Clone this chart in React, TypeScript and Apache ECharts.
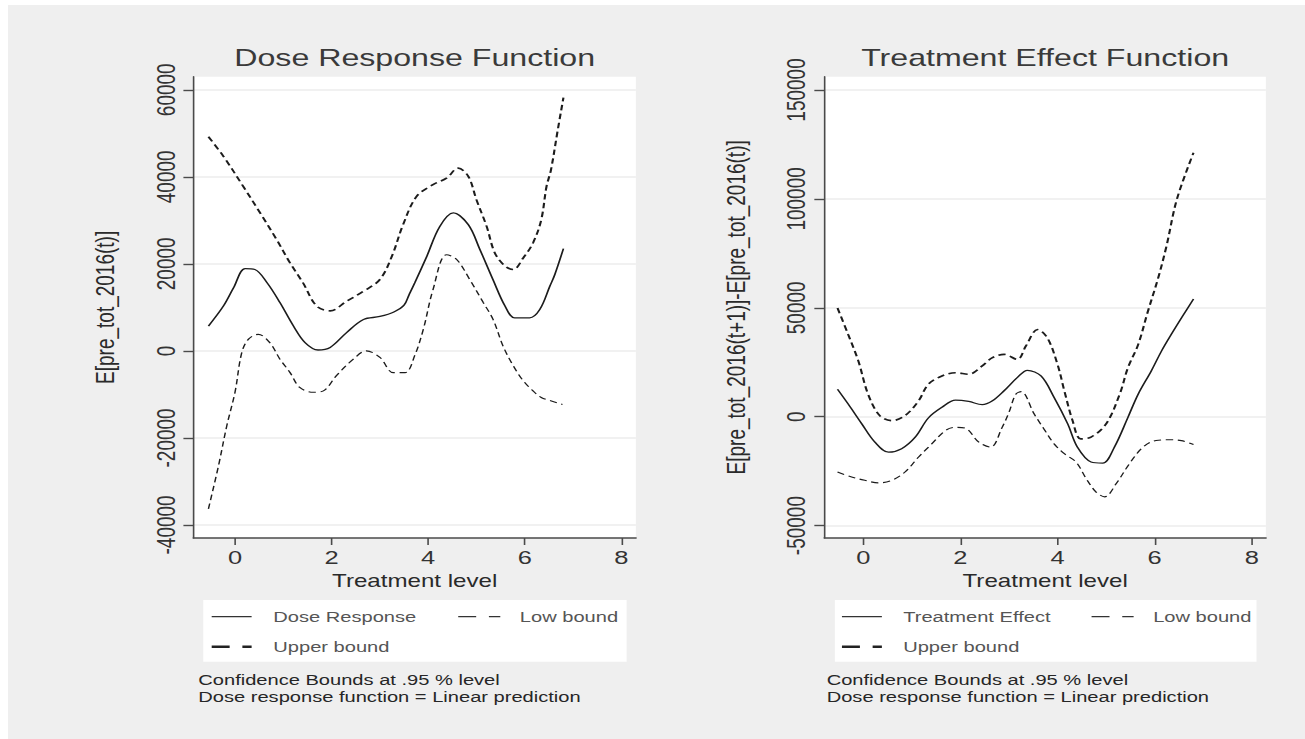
import React, { useEffect, useRef } from "react";
import * as echarts from "echarts";

const FONT = '"Liberation Sans", Arial, Helvetica, sans-serif';
const CHART_W = 974;
const SX = 1305 / CHART_W;

// ---------- Left panel: Dose Response Function ----------
const doseX = [-0.55, -0.24, -0.03, 0.21, 0.41, 0.66, 0.93, 1.21, 1.45, 1.72, 1.97, 2.31, 2.66, 3.0, 3.3, 3.5, 3.6, 3.72, 3.97, 4.24, 4.52, 4.83, 5.07, 5.34, 5.59, 5.79, 6.1, 6.31, 6.52, 6.62, 6.8];
const doseY = [5700, 10300, 14500, 18900, 18700, 15700, 11100, 5700, 1900, 200, 800, 4200, 7200, 7900, 9000, 10500, 12800, 15600, 21700, 28600, 31700, 29000, 23300, 16400, 10300, 7600, 7600, 9500, 14900, 17500, 23500];

const doseUpX = [-0.55, -0.24, 0.17, 0.52, 0.86, 1.14, 1.41, 1.69, 1.97, 2.31, 2.66, 3.0, 3.25, 3.48, 3.76, 4.1, 4.38, 4.62, 4.83, 5.0, 5.21, 5.38, 5.59, 5.76, 5.97, 6.17, 6.34, 6.45, 6.54, 6.68, 6.8];
const doseUpY = [49200, 44700, 37800, 31700, 25600, 20200, 15600, 10300, 9200, 11400, 13700, 16400, 21800, 29000, 35500, 38200, 39700, 42000, 40100, 34700, 28600, 22500, 19500, 18700, 21400, 24800, 30100, 37800, 41500, 50600, 58200];

const doseLoX = [-0.55, -0.34, -0.17, 0.0, 0.14, 0.28, 0.48, 0.72, 0.93, 1.14, 1.34, 1.62, 1.83, 2.1, 2.45, 2.72, 3.0, 3.28, 3.52, 3.72, 3.9, 4.1, 4.38, 4.59, 4.86, 5.14, 5.34, 5.55, 5.76, 5.97, 6.17, 6.34, 6.55, 6.78];
const doseLoY = [-36300, -26300, -17200, -9500, -400, 2700, 3800, 1900, -1900, -5000, -8400, -9500, -9200, -5700, -1900, 0, -1500, -5000, -5000, -1100, 5000, 14100, 22100, 21000, 16400, 11100, 7300, 1100, -3400, -6900, -9200, -10700, -11500, -12300];

// ---------- Right panel: Treatment Effect Function ----------
const effX = [-0.53, -0.31, -0.03, 0.24, 0.52, 0.79, 1.07, 1.34, 1.62, 1.9, 2.17, 2.45, 2.66, 2.9, 3.17, 3.38, 3.66, 3.93, 4.21, 4.41, 4.69, 4.93, 5.17, 5.45, 5.66, 5.93, 6.14, 6.34, 6.57, 6.8];
const effY = [12600, 5800, -3300, -11700, -16300, -14700, -9400, -600, 4300, 7600, 7000, 5500, 7300, 11900, 17900, 21300, 18700, 8800, -3300, -14000, -20800, -21300, -14000, -300, 10300, 21000, 30100, 37700, 46000, 54000];

const effUpX = [-0.53, -0.31, -0.1, 0.1, 0.34, 0.59, 0.86, 1.14, 1.34, 1.62, 1.9, 2.17, 2.45, 2.66, 2.9, 3.17, 3.35, 3.59, 3.79, 4.0, 4.14, 4.31, 4.48, 4.69, 5.0, 5.28, 5.45, 5.66, 5.86, 6.07, 6.24, 6.46, 6.8];
const effUpY = [49900, 37700, 25500, 10300, 500, -1800, 500, 7300, 14900, 18700, 20200, 19500, 23300, 27100, 28600, 26300, 32500, 40000, 36200, 24000, 11900, -1800, -10200, -9400, -3300, 10300, 22500, 33100, 48300, 63500, 78000, 100000, 121200];

const effLoX = [-0.53, -0.24, 0.03, 0.31, 0.59, 0.86, 1.14, 1.41, 1.69, 1.9, 2.1, 2.38, 2.62, 2.86, 3.0, 3.14, 3.25, 3.52, 3.72, 3.93, 4.14, 4.38, 4.59, 4.79, 4.97, 5.21, 5.48, 5.76, 6.03, 6.31, 6.55, 6.8];
const effLoY = [-25400, -27700, -29200, -30400, -29200, -25400, -18500, -12500, -6400, -4900, -5300, -11700, -14000, -4900, 2000, 10300, 11500, 1200, -5600, -12500, -17000, -20800, -28400, -34500, -36800, -30700, -21600, -14000, -10900, -10600, -11000, -12800];

// ---------- Axes ticks ----------
const xTicks = [0, 2, 4, 6, 8];
const leftYTicks = [-40000, -20000, 0, 20000, 40000, 60000];
const rightYTicks = [-50000, 0, 50000, 100000, 150000];

// ---------- Texts ----------
const titles = ["Dose Response Function", "Treatment Effect Function"];
const yTitles = ["E[pre_tot_2016(t)]", "E[pre_tot_2016(t+1)]-E[pre_tot_2016(t)]"];
const xTitle = "Treatment level";
const legendLeft = ["Dose Response", "Low bound", "Upper bound"];
const legendRight = ["Treatment Effect", "Low bound", "Upper bound"];
const notes = ["Confidence Bounds at .95 % level", "Dose response function = Linear prediction"];

const pairs = (xs: number[], ys: number[]) => xs.map((x, i) => [x, ys[i]]);

const LINE = "#1c1c1c";
const AXIS = "#4a4a4a";

function xAxisCfg(gridIndex: number, min: number, max: number) {
  return {
    type: "value",
    gridIndex,
    min,
    max,
    name: xTitle,
    nameLocation: "middle",
    nameGap: 30,
    nameTextStyle: { fontFamily: FONT, fontSize: 18, color: "#2a2a2a" },
    axisLine: { show: true, onZero: false, lineStyle: { color: AXIS, width: 1.6 } },
    axisTick: { show: true, length: 7, customValues: xTicks, lineStyle: { color: AXIS, width: 1.2 } },
    axisLabel: {
      customValues: xTicks,
      margin: 10,
      fontFamily: FONT,
      fontSize: 19,
      color: "#333",
      formatter: (v: number) => String(v),
    },
    splitLine: { show: false },
  };
}

function yAxisCfg(gridIndex: number, min: number, max: number, ticks: number[], name: string) {
  return {
    type: "value",
    gridIndex,
    min,
    max,
    name,
    nameLocation: "middle",
    nameRotate: 90,
    nameGap: 56,
    nameTextStyle: { fontFamily: FONT, fontSize: 19, color: "#2a2a2a" },
    axisLine: { show: true, onZero: false, lineStyle: { color: AXIS, width: 1.2 } },
    axisTick: { show: true, length: 7.5, customValues: ticks, lineStyle: { color: AXIS, width: 1.4 } },
    axisLabel: {
      customValues: ticks,
      rotate: 90,
      margin: 11,
      fontFamily: FONT,
      fontSize: 19,
      color: "#333",
      formatter: (v: number) => String(v),
    },
    splitLine: { show: true, lineStyle: { color: "#ededed", width: 1.5 } },
  };
}

function lineSeries(xi: number, xs: number[], ys: number[], kind: "solid" | "up" | "lo", name: string) {
  const style =
    kind === "solid"
      ? { color: LINE, width: 1.3, type: "solid" }
      : kind === "up"
      ? { color: LINE, width: 1.6, type: [5.5, 3.5] }
      : { color: LINE, width: 1.1, type: [5.5, 3.5] };
  return {
    type: "line",
    name,
    xAxisIndex: xi,
    yAxisIndex: xi,
    data: pairs(xs, ys),
    showSymbol: false,
    symbol: "none",
    smooth: 0.35,
    silent: true,
    lineStyle: style,
  };
}

function legendGraphics(box: { x: number; w: number }, lineX: number, textX: number, lowLineX: number, lowTextX: number, labels: string[]) {
  const sampleW = 29.8;
  const dash = [13.4, 9.5];
  const font = `15px ${FONT}`;
  return [
    { type: "rect", shape: { x: box.x, y: 600, width: box.w, height: 61.7 }, style: { fill: "#ffffff" }, silent: true },
    { type: "line", shape: { x1: lineX, y1: 616.7, x2: lineX + sampleW, y2: 616.7 }, style: { stroke: "#333", lineWidth: 1.2 }, silent: true },
    { type: "text", x: textX, y: 616.7, style: { text: labels[0], font, fill: "#555", textAlign: "left", textVerticalAlign: "middle" }, silent: true },
    { type: "line", shape: { x1: lowLineX, y1: 616.7, x2: lowLineX + 31.4, y2: 616.7 }, style: { stroke: "#333", lineWidth: 1.2, lineDash: dash }, silent: true },
    { type: "text", x: lowTextX, y: 616.7, style: { text: labels[1], font, fill: "#555", textAlign: "left", textVerticalAlign: "middle" }, silent: true },
    { type: "line", shape: { x1: lineX, y1: 646.7, x2: lineX + sampleW, y2: 646.7 }, style: { stroke: "#222", lineWidth: 2.4, lineDash: dash }, silent: true },
    { type: "text", x: textX, y: 646.7, style: { text: labels[2], font, fill: "#555", textAlign: "left", textVerticalAlign: "middle" }, silent: true },
  ];
}

function noteGraphics(x: number) {
  const font = `15px ${FONT}`;
  return [
    { type: "text", x, y: 679.5, style: { text: notes[0], font, fill: "#262626", textAlign: "left", textVerticalAlign: "middle" }, silent: true },
    { type: "text", x, y: 696.7, style: { text: notes[1], font, fill: "#262626", textAlign: "left", textVerticalAlign: "middle" }, silent: true },
  ];
}

const GRID_L = { left: 144.4, width: 330.2 };
const GRID_R = { left: 615.3, width: 329.5 };
const GRID_TOP = 76.7;
const GRID_H = 461.3;

function buildOption() {
  const gridCommon = {
    top: GRID_TOP,
    height: GRID_H,
    show: true,
    backgroundColor: "#ffffff",
    borderWidth: 0,
    borderColor: "transparent",
    containLabel: false,
    outerBoundsMode: "none",
  };
  return {
    animation: false,
    backgroundColor: "#efefef",
    grid: [
      { ...gridCommon, left: GRID_L.left, width: GRID_L.width },
      { ...gridCommon, left: GRID_R.left, width: GRID_R.width },
    ],
    xAxis: [xAxisCfg(0, -0.86, 8.3), xAxisCfg(1, -0.8, 8.29)],
    yAxis: [
      yAxisCfg(0, -43000, 63000, leftYTicks, yTitles[0]),
      yAxisCfg(1, -55700, 156100, rightYTicks, yTitles[1]),
    ],
    series: [
      lineSeries(0, doseX, doseY, "solid", "Dose Response"),
      lineSeries(0, doseLoX, doseLoY, "lo", "Low bound"),
      lineSeries(0, doseUpX, doseUpY, "up", "Upper bound"),
      lineSeries(1, effX, effY, "solid", "Treatment Effect"),
      lineSeries(1, effLoX, effLoY, "lo", "Low bound (effect)"),
      lineSeries(1, effUpX, effUpY, "up", "Upper bound (effect)"),
    ],
    graphic: [
      { type: "rect", shape: { x: 0, y: 0, width: CHART_W, height: 5 }, style: { fill: "#ffffff" }, silent: true },
      { type: "rect", shape: { x: 0, y: 0, width: 6, height: 739 }, style: { fill: "#ffffff" }, silent: true },
      {
        type: "text",
        x: GRID_L.left + GRID_L.width / 2,
        y: 58,
        style: { text: titles[0], font: `24px ${FONT}`, fill: "#3a3a3a", textAlign: "center", textVerticalAlign: "middle" },
        silent: true,
      },
      {
        type: "text",
        x: GRID_R.left + GRID_R.width / 2,
        y: 58,
        style: { text: titles[1], font: `24px ${FONT}`, fill: "#3a3a3a", textAlign: "center", textVerticalAlign: "middle" },
        silent: true,
      },
      ...legendGraphics({ x: 151.7, w: 316 }, 158, 204, 342, 388, legendLeft),
      ...legendGraphics({ x: 623.1, w: 314.7 }, 628.4, 674.1, 814.7, 860.7, legendRight),
      ...noteGraphics(148),
      ...noteGraphics(617),
    ],
  };
}

export default function App() {
  const ref = useRef<HTMLDivElement>(null);
  useEffect(() => {
    if (!ref.current) return;
    const chart = echarts.init(ref.current, null, { renderer: "svg" });
    chart.setOption(buildOption() as any);
    return () => chart.dispose();
  }, []);
  return (
    <div
      style={{
        position: "fixed",
        left: 0,
        top: 0,
        width: 1305,
        height: 739,
        overflow: "hidden",
        background: "#efefef",
      }}
    >
      <div
        ref={ref}
        style={{
          width: CHART_W,
          height: 739,
          transform: `scaleX(${SX})`,
          transformOrigin: "0 0",
        }}
      />
    </div>
  );
}
